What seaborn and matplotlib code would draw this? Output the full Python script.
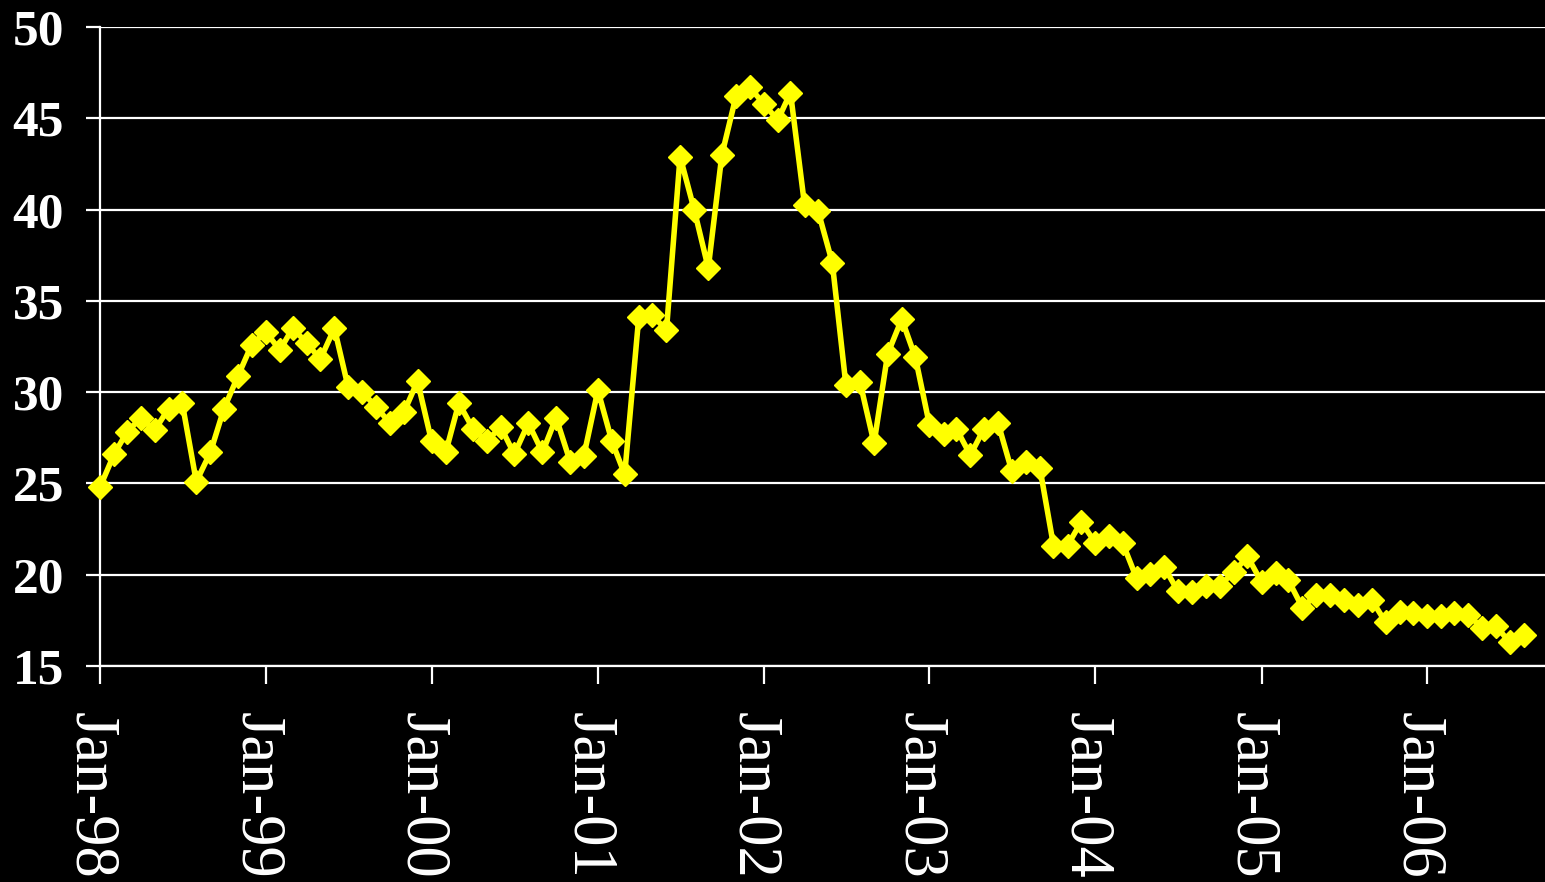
import numpy as np
import pandas as pd
import matplotlib
matplotlib.use("Agg")
import matplotlib.pyplot as plt
import matplotlib.dates as mdates
import matplotlib.transforms as mtransforms
import seaborn as sns

# monthly series, Jan-98 .. Aug-06
months = pd.date_range("1998-01-01", periods=104, freq="MS")
values = [
    24.8, 26.6, 27.8, 28.6, 27.9, 29.1, 29.4, 25.1, 26.7, 29.1, 30.9, 32.6,
    33.3, 32.3, 33.5, 32.7, 31.8, 33.5, 30.3, 30.0, 29.2, 28.3, 28.9, 30.6,
    27.3, 26.7, 29.4, 28.0, 27.3, 28.1, 26.6, 28.3, 26.7, 28.6, 26.2, 26.5,
    30.1, 27.3, 25.5, 34.1, 34.2, 33.4, 42.9, 40.0, 36.8, 43.0, 46.2, 46.7,
    45.8, 44.9, 46.4, 40.25, 39.9, 37.1, 30.4, 30.55, 27.2, 32.1, 34.0, 31.9,
    28.2, 27.7, 28.0, 26.55, 28.0, 28.3, 25.7, 26.2, 25.85, 21.6, 21.6, 22.9,
    21.75, 22.1, 21.75, 19.8, 20.05, 20.4, 19.1, 19.05, 19.4, 19.4, 20.15, 21.0,
    19.6, 20.1, 19.7, 18.2, 18.9, 18.9, 18.6, 18.35, 18.6, 17.4, 17.95, 17.9,
    17.75, 17.75, 17.9, 17.8, 17.1, 17.2, 16.3, 16.7,
]
y_ticks = [15, 20, 25, 30, 35, 40, 45, 50]

df = pd.DataFrame({"month": months, "value": values})

sns.set_theme(style="dark", rc={
    "figure.facecolor": "black",
    "axes.facecolor": "black",
    "axes.edgecolor": "white",
    "grid.color": "white",
    "text.color": "white",
    "xtick.color": "white",
    "ytick.color": "white",
})
plt.rcParams["font.family"] = ["Liberation Serif", "DejaVu Serif"]

fig = plt.figure(figsize=(15.45, 8.82), dpi=100)
ax = fig.add_axes([100 / 1545, 1 - 666 / 882, 1445 / 1545, 639 / 882])

sns.lineplot(data=df, x="month", y="value", ax=ax, color="#FFFF00",
             linewidth=4, marker="D", markersize=12.5,
             markeredgecolor="#FFFF00", markeredgewidth=1, clip_on=False,
             zorder=5)

ax.set_ylim(15, 50)
ax.set_yticks(y_ticks)
ax.set_xlim(pd.Timestamp("1998-01-01"), pd.Timestamp("2006-09-17"))
ax.xaxis.set_major_locator(mdates.YearLocator(month=1, day=1))
ax.xaxis.set_major_formatter(mdates.DateFormatter("%b-%y"))

ax.grid(axis="y", color="white", linewidth=1.6)
ax.grid(axis="x", visible=False)
ax.set_axisbelow(True)

for side in ["top", "right"]:
    ax.spines[side].set_visible(False)
ax.spines["left"].set_color("white")
ax.spines["left"].set_linewidth(1.6)
ax.spines["bottom"].set_color("white")
ax.spines["bottom"].set_linewidth(1.6)

ax.tick_params(axis="y", direction="out", length=10, width=1.6,
               pad=16, labelsize=37, colors="white", left=True)
ax.tick_params(axis="x", direction="out", length=13, width=1.6,
               pad=20, labelsize=45, colors="white", bottom=True)
for lab in ax.get_yticklabels():
    lab.set_fontweight("bold")
shift = mtransforms.ScaledTranslation(-10 / 100, 0, fig.dpi_scale_trans)
for lab in ax.get_xticklabels():
    lab.set_rotation(270)
    lab.set_ha("center")
    lab.set_va("top")
    lab.set_transform(lab.get_transform() + shift)

ax.set_xlabel("")
ax.set_ylabel("")

fig.savefig("out.png", dpi=100, facecolor="black")
